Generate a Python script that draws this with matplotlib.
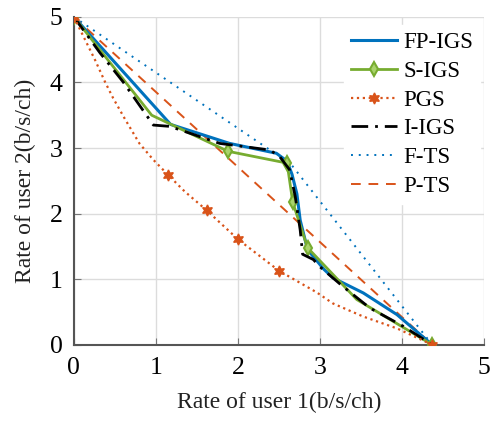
import matplotlib
matplotlib.use("Agg")
import matplotlib.pyplot as plt

plt.rcParams['font.family'] = ['Liberation Serif', 'DejaVu Serif']

# rate pairs (user 1, user 2)
fp_igs_x = [0, 1.18, 1.9, 2.47, 2.6, 2.66, 2.72, 2.76, 2.85, 3.05, 3.16, 3.53, 3.94, 4.37]
fp_igs_y = [5, 3.36, 3.07, 2.92, 2.8, 2.6, 2.3, 1.9, 1.45, 1.15, 1.02, 0.79, 0.46, 0]

s_igs_x = [0, 0.95, 1.88, 2.6, 2.67, 2.85, 3.45, 4.37]
s_igs_y = [5, 3.5, 2.95, 2.77, 2.17, 1.48, 0.69, 0]
s_igs_marks = [0, 2, 3, 4, 5, 7]

pgs_x = [0, 0.13, 0.26, 0.38, 0.48, 0.62, 0.80, 0.97, 1.15, 1.35, 1.62, 2.0, 2.5, 2.96, 3.16, 3.53, 3.94, 4.37]
pgs_y = [5, 4.67, 4.34, 4.01, 3.76, 3.45, 3.07, 2.82, 2.59, 2.34, 2.05, 1.61, 1.13, 0.80, 0.63, 0.43, 0.25, 0]
pgs_marks = [0, 8, 10, 11, 12, 17]

i_igs_x = [0, 0.32, 0.6, 0.97, 1.17, 1.78, 2.39, 2.51, 2.63, 2.70, 2.76, 2.79, 2.92, 3.0, 3.28, 3.61, 4.02, 4.37]
i_igs_y = [5, 4.45, 4.01, 3.35, 3.33, 3.07, 2.97, 2.87, 2.67, 2.26, 1.75, 1.38, 1.30, 1.19, 0.89, 0.56, 0.28, 0]

f_ts_x = [0, 2.65, 4.37]
f_ts_y = [5, 2.75, 0]

p_ts_x = [0, 4.37]
p_ts_y = [5, 0]

ticks = [0, 1, 2, 3, 4, 5]

blue = '#0072BD'
orange = '#D95319'
green = '#77AC30'

fig = plt.figure(figsize=(5.02, 4.21), dpi=100)
ax = fig.add_axes([0.147, 0.181, 0.817, 0.779])

ax.plot(fp_igs_x, fp_igs_y, color=blue, lw=2.2, label='FP-IGS', zorder=5)
ax.plot(s_igs_x, s_igs_y, color=green, lw=2.0, marker='d', markersize=7,
        markevery=s_igs_marks, mfc='#a9d36b', mec=green, mew=1.5, label='S-IGS', zorder=6)
ax.plot(pgs_x, pgs_y, color=orange, lw=1.6, ls=':', marker=(6, 1, 0), markersize=8,
        markevery=pgs_marks, mec=orange, mfc=orange, label='PGS', zorder=7)
ax.plot(i_igs_x, i_igs_y, color='black', lw=2.0, ls=(0, (6, 2.5, 1, 2.5)), label='I-IGS', zorder=6)
ax.plot(f_ts_x, f_ts_y, color=blue, lw=1.4, ls=(0, (1, 3)), label='F-TS', zorder=4)
ax.plot(p_ts_x, p_ts_y, color=orange, lw=1.4, ls=(0, (5, 4)), label='P-TS', zorder=4)

ax.set_xlim(0, 5)
ax.set_ylim(0, 5)
ax.set_xticks(ticks)
ax.set_yticks(ticks)
ax.tick_params(labelsize=18.5, direction='in', length=5, color='#777777')
ax.tick_params(axis='x', pad=9)
ax.tick_params(axis='y', pad=8)
ax.grid(True, color='#dcdcdc', lw=1.0)
ax.set_axisbelow(True)
for side in ('top', 'right'):
    ax.spines[side].set_visible(False)
for side in ('left', 'bottom'):
    ax.spines[side].set_color('#555555')
    ax.spines[side].set_linewidth(1.5)

ax.set_xlabel('Rate of user 1(b/s/ch)', fontsize=17, color='#222222', labelpad=9)
ax.set_ylabel('Rate of user 2(b/s/ch)', fontsize=17, color='#222222', labelpad=10)

leg = ax.legend(loc='upper right', bbox_to_anchor=(1.019, 1.01), fontsize=16.5,
                frameon=True, facecolor='white', edgecolor='white', framealpha=1,
                handlelength=2.0, handletextpad=0.3, labelspacing=0.34, borderpad=0.3)
leg.set_zorder(10)

fig.savefig('out.png', dpi=100)
